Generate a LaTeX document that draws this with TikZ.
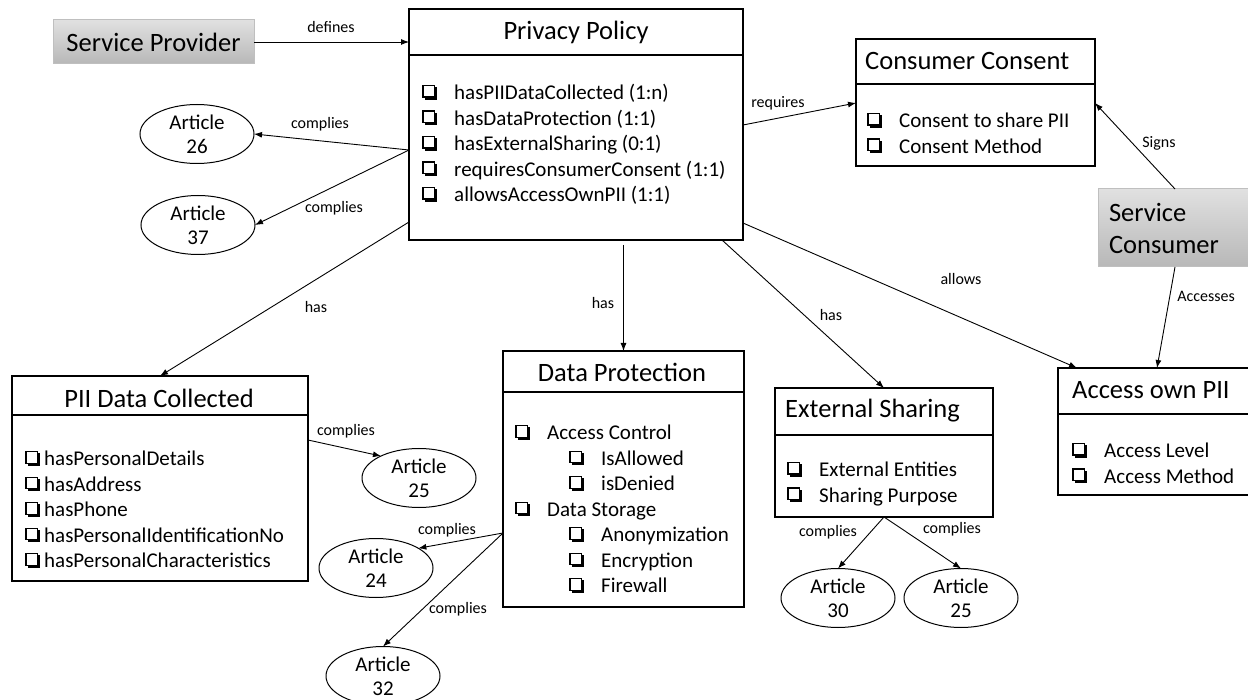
\documentclass[tikz,border=0pt]{standalone}
\usepackage{fontspec}
\setmainfont{Carlito}
\usetikzlibrary{shapes.geometric}
\usetikzlibrary{arrows.meta}

% small shadowed check box used in the lists
\newcommand{\ticbox}{\tikz[x=1pt,y=1pt,baseline=0pt]{\fill (2.5,0) rectangle (15,12.5); \draw[fill=white,line width=1.3pt] (0.6,2.5) rectangle (12.5,14);}}
\newcommand{\chkitem}[1]{\makebox[32pt][l]{\ticbox}#1}
\newcommand{\chksubitem}[1]{\hspace*{54pt}\chkitem{#1}}
\newcommand{\tightitem}[1]{\makebox[19pt][l]{\ticbox}#1}

\begin{document}
\begin{tikzpicture}[x=1pt,y=-1pt,
    box/.style={draw, line width=1.2pt, fill=white, anchor=north west, inner sep=0pt, outer sep=0pt},
    graybox/.style={draw=black!25, line width=1pt, top color=black!12, bottom color=black!28, anchor=north west, inner sep=0pt, outer sep=0pt, font=\fontsize{26.5}{32}\selectfont},
    article/.style={draw, ellipse, line width=1pt, minimum width=114pt, minimum height=59pt, inner sep=0pt, outer sep=0pt, label={[artxt]center:Article\\#1}},
    artxt/.style={align=center, inner sep=0pt, font=\fontsize{21}{24}\selectfont},
    ttl/.style={inner sep=0pt, font=\fontsize{26.5}{30}\selectfont},
    items/.style={align=left, anchor=north west, inner sep=0pt, font=\fontsize{21}{25.5}\selectfont},
    lbl/.style={inner sep=0pt, font=\fontsize{16}{19}\selectfont},
    conn/.style={line width=0.9pt, -{Latex[length=8pt,width=6pt]}}]

    \path[fill=white, use as bounding box] (0,0) rectangle (1248,700);

    % actors
    \node[graybox, minimum width=201pt, minimum height=44pt] (sp) at (53,20) {Service Provider};
    \node[graybox, text width=150pt, inner xsep=11pt, align=left, minimum height=78pt] (sc) at (1098,189) {Service\\Consumer};

    % privacy policy
    \node[box, minimum width=334pt, minimum height=231pt] (pp) at (409,9) {};
    \draw[line width=1.2pt] ([yshift=-46pt]pp.north west) -- ([yshift=-46pt]pp.north east);
    \node[ttl] (pp-title) at (576,32) {Privacy Policy};
    \node[items] (pp-items) at (422,81.6) {\strut\chkitem{hasPIIDataCollected (1:n)}\\ \chkitem{hasDataProtection (1:1)}\\ \chkitem{hasExternalSharing (0:1)}\\ \chkitem{requiresConsumerConsent (1:1)}\\ \chkitem{allowsAccessOwnPII (1:1)}};

    % consumer consent
    \node[box, minimum width=239pt, minimum height=127pt] (cc) at (856,39) {};
    \draw[line width=1.2pt] ([yshift=-45pt]cc.north west) -- ([yshift=-45pt]cc.north east);
    \node[ttl, anchor=west] (cc-title) at (865,61) {Consumer Consent};
    \node[items] (cc-items) at (867,109.6) {\strut\chkitem{Consent to share PII}\\ \chkitem{Consent Method}};

    % PII data collected
    \node[box, minimum width=296pt, minimum height=205pt] (pii) at (12,376) {};
    \draw[line width=1.2pt] ([yshift=-39pt]pii.north west) -- ([yshift=-39pt]pii.north east);
    \node[ttl] (pii-title) at (159,398) {PII Data Collected};
    \node[items] (pii-items) at (25,447.6) {\strut\tightitem{hasPersonalDetails}\\ \tightitem{hasAddress}\\ \tightitem{hasPhone}\\ \tightitem{hasPersonalIdentificationNo}\\ \tightitem{hasPersonalCharacteristics}};

    % data protection
    \node[box, minimum width=241pt, minimum height=256pt] (dp) at (503,351) {};
    \draw[line width=1.2pt] ([yshift=-41pt]dp.north west) -- ([yshift=-41pt]dp.north east);
    \node[ttl] (dp-title) at (622,372) {Data Protection};
    \node[items] (dp-items) at (515,421.6) {\strut\chkitem{Access Control}\\ \chksubitem{IsAllowed}\\ \chksubitem{isDenied}\\ \chkitem{Data Storage}\\ \chksubitem{Anonymization}\\ \chksubitem{Encryption}\\ \chksubitem{Firewall}};

    % external sharing
    \node[box, minimum width=218pt, minimum height=129pt] (es) at (775,388) {};
    \draw[line width=1.2pt] ([yshift=-47pt]es.north west) -- ([yshift=-47pt]es.north east);
    \node[ttl, anchor=west] (es-title) at (785,411) {External Sharing};
    \node[items] (es-items) at (787,458.6) {\strut\chkitem{External Entities}\\ \chkitem{Sharing Purpose}};

    % access own PII
    \node[box, minimum width=200pt, minimum height=127pt] (ao) at (1058,368) {};
    \draw[line width=1.2pt] ([yshift=-46pt]ao.north west) -- ([yshift=-46pt]ao.north east);
    \node[ttl, anchor=west] (ao-title) at (1072,390) {Access own PII};
    \node[items] (ao-items) at (1072,439.6) {\strut\chkitem{Access Level}\\ \chkitem{Access Method}};

    % articles
    \node[article=26] (a26) at (197,134) {};
    \node[article=37] (a37) at (198,225) {};
    \node[article=25] (a25) at (419,478) {};
    \node[article=24] (a24) at (376,568) {};
    \node[article=32] (a32) at (383,676) {};
    \node[article=30] (a30) at (838,598) {};
    \node[article=25] (a25b) at (961,598) {};

    % connectors
    \draw[conn] (sp.east) -- (sp.east -| pp.west) node[lbl] (l-def) at (331,27) {defines};
    \draw[conn] ([yshift=-141pt]pp.north west) -- (a26.east) node[lbl] (l-a26) at (320,124) {complies};
    \draw[conn] ([yshift=-141pt]pp.north west) -- (a37.east) node[lbl] (l-a37) at (334,208) {complies};
    \draw[conn] ([yshift=18pt]pp.south west) -- (pii.north) node[lbl] (l-pii) at (316,307) {has};
    \draw[conn] ([yshift=-5pt]dp.north |- pp.south) -- (dp.north) node[lbl] (l-dp) at (603,303) {has};
    \draw[conn] ([xshift=-21pt]pp.south east) -- (es.north) node[lbl] (l-es) at (831,315) {has};
    \draw[conn] ([yshift=17pt]pp.south east) -- ([xshift=19pt]ao.north west) node[lbl] (l-ao) at (961,279) {allows};
    \draw[conn] ([yshift=-116pt]pp.north east) -- ([yshift=-64pt]cc.north west) node[lbl] (l-cc) at (778,103) {requires};
    \draw[conn] ([xshift=77pt]sc.north west) -- ([yshift=-64pt]cc.north east) node[lbl] (l-sign) at (1159,143) {Signs};
    \draw[conn] ([xshift=77pt]sc.south west) -- ([xshift=99pt]ao.north west) node[lbl] (l-acc) at (1206,296) {Accesses};
    \draw[conn] ([yshift=-64pt]pii.north east) -- (a25.150) node[lbl] (l-a25) at (346,431) {complies};
    \draw[conn] ([yshift=-182pt]dp.north west) -- (a24.25) node[lbl] (l-a24) at (447,530) {complies};
    \draw[conn] ([yshift=-182pt]dp.north west) -- (a32.north) node[lbl] (l-a32) at (458,609) {complies};
    \draw[conn] (es.south) -- (a30.north) node[lbl] (l-a30) at (828,532) {complies};
    \draw[conn] (es.south) -- (a25b.north) node[lbl] (l-a25b) at (952,529) {complies};

\end{tikzpicture}
\end{document}
